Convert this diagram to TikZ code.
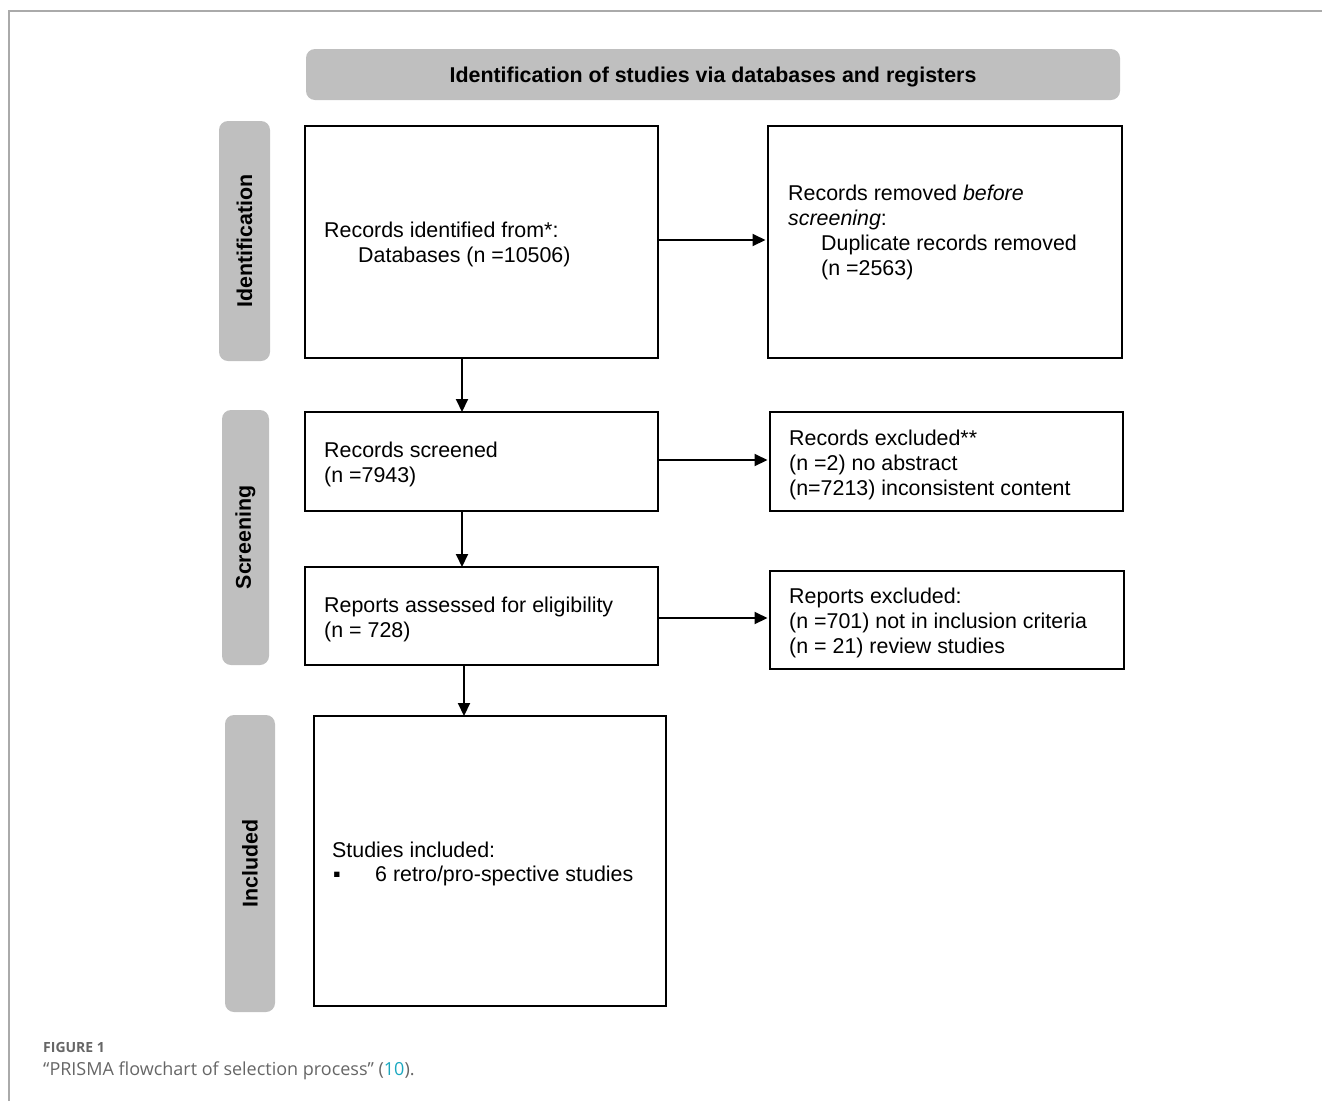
\documentclass[tikz,border=0pt]{standalone}
\usepackage{fontspec}
\setmainfont{Liberation Sans}
\newfontfamily\capfont{Open Sans}
\usetikzlibrary{arrows.meta}
\definecolor{hdrgrey}{HTML}{BFBFBF}
\definecolor{framegrey}{HTML}{AAAAAA}
\definecolor{capgrey}{HTML}{666666}
\definecolor{capteal}{HTML}{1BA8C0}
\begin{document}
\begin{tikzpicture}[x=1pt,y=-1pt,
  box/.style={draw=black, line width=2pt, inner sep=0pt, outer sep=0pt},
  phase/.style={fill=hdrgrey, rounded corners=9pt, inner sep=0pt, outer sep=0pt, font=\fontsize{21.4}{25}\selectfont\bfseries},
  txt/.style={anchor=west, align=left, inner sep=0pt, font=\fontsize{21.4}{24.8}\selectfont},
  arr/.style={line width=2pt, -{Triangle[length=13pt,width=12pt]}},
]
\useasboundingbox (0,0) rectangle (1322,1101);
\draw[framegrey, line width=1.5pt] (9,1101) -- (9,11) -- (1322,11);

% header and phase labels
\node[phase, minimum width=814pt, minimum height=51pt, text height=15.3pt, text depth=0pt] (hdr) at (713,74.5) {Identification of studies via databases and registers};
\node[phase, rotate=90, minimum width=240pt, minimum height=51pt] (pid) at (244.5,241) {Identification};
\node[phase, rotate=90, minimum width=255pt, minimum height=47pt] (pscr) at (245.5,537.5) {Screening};
\node[phase, rotate=90, minimum width=297pt, minimum height=50pt] (pinc) at (250,863.5) {Included};

% boxes
\node[box, minimum width=353pt, minimum height=232pt] (b1) at (481.5,242) {};
\node[box, minimum width=354pt, minimum height=232pt] (b2) at (945,242) {};
\node[box, minimum width=353pt, minimum height=99pt] (b3) at (481.5,461.5) {};
\node[box, minimum width=353pt, minimum height=99pt] (b4) at (946.5,461.5) {};
\node[box, minimum width=353pt, minimum height=98pt] (b5) at (481.5,616) {};
\node[box, minimum width=354pt, minimum height=98pt] (b6) at (947,620) {};
\node[box, minimum width=352pt, minimum height=290pt] (b7) at (490,861) {};

% texts
\node[txt] (t1) at (324,244.5) {Records identified from*:\\\hspace*{34pt}Databases (n =10506)};
\node[txt] (t2) at (788,232.5) {Records removed \textit{before}\\\textit{screening}:\\\hspace*{33pt}Duplicate records removed\\\hspace*{33pt}(n =2563)};
\node[txt] (t3) at (324,464.5) {Records screened\\(n =7943)};
\node[txt] (t4) at (789,465) {Records excluded**\\(n =2) no abstract\\(n=7213) inconsistent content};
\node[txt] (t5) at (324,619.5) {Reports assessed for eligibility\\(n = 728)};
\node[txt] (t6) at (789,623) {Reports excluded:\\(n =701) not in inclusion criteria\\(n = 21) review studies};
\node[txt] (t7) at (332,864) {Studies included:\\\makebox[43pt][l]{\hspace*{1pt}▪}6 retro/pro-spective studies};

% arrows
\draw[arr, shorten >=2.5pt] (b1.east |- 0,240) -- (b2.west |- 0,240);
\draw[arr] (b1.south -| 462,0) -- (b3.north -| 462,0);
\draw[arr, shorten >=2.5pt] (b3.east |- 0,460) -- (b4.west |- 0,460);
\draw[arr] (b3.south -| 462,0) -- (b5.north -| 462,0);
\draw[arr, shorten >=2.5pt] (b5.east |- 0,618) -- (b6.west |- 0,618);
\draw[arr] (b5.south -| 464,0) -- (b7.north -| 464,0);

% caption
\node[anchor=base west, inner sep=0pt, font=\capfont\fontsize{14}{16}\selectfont\bfseries, text=capgrey] (fig) at (43,1052) {FIGURE 1};
\node[anchor=base west, inner sep=0pt, font=\capfont\fontsize{18}{20}\selectfont, text=capgrey] (cap) at (43,1075) {“PRISMA flowchart of selection process” ({\color{capteal}10}).};
\end{tikzpicture}
\end{document}
